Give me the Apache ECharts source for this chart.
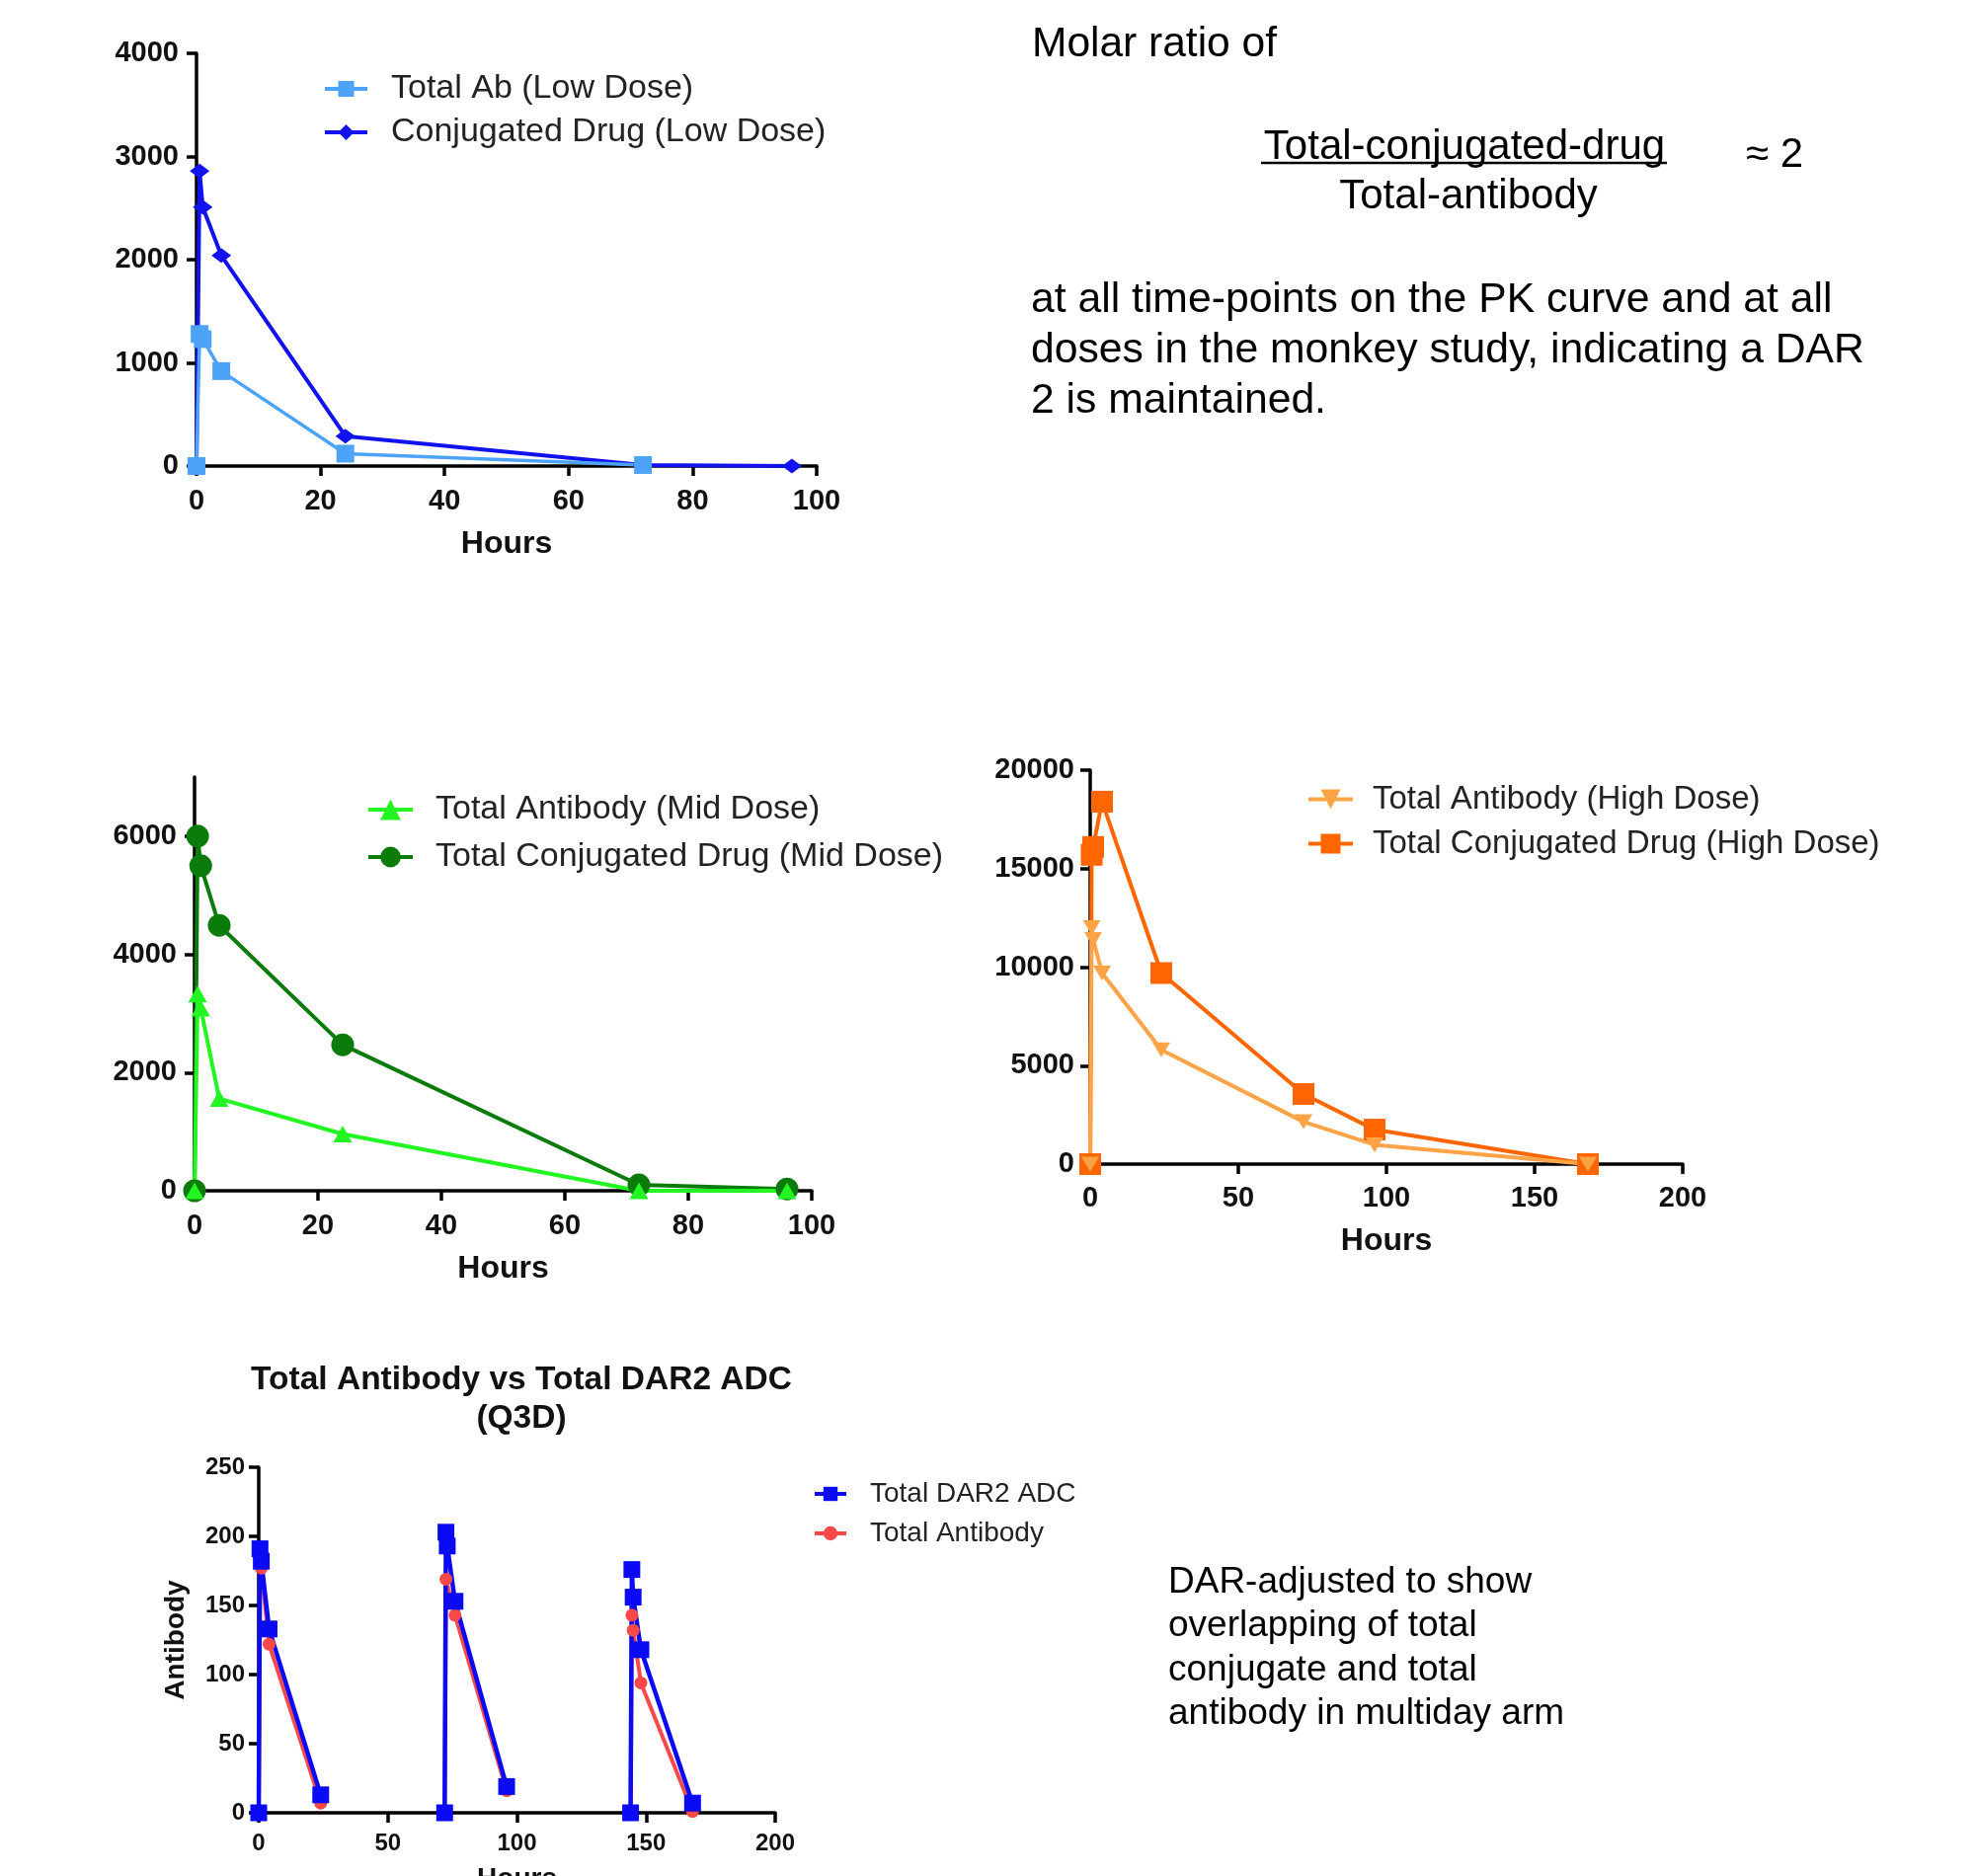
<!DOCTYPE html>
<html>
<head>
<meta charset="utf-8">
<script src="https://cdn.jsdelivr.net/npm/echarts@6/dist/echarts.min.js"></script>
<style>html,body{margin:0;padding:0;background:#fff}#c{width:2001px;height:1900px}</style>
</head>
<body>
<div id="c"></div>
<script>
// ---------- data ----------
const lowTime = [0, 0.5, 1, 4, 24, 72, 96];
const lowTotalAb = [0, 1280, 1230, 920, 120, 10, null];
const lowConjDrug = [0, 2860, 2510, 2040, 290, 10, 0];

const midTime = [0, 0.5, 1, 4, 24, 72, 96];
const midTotalAb = [0, 3330, 3090, 1560, 960, 0, 0];
const midConjDrug = [0, 6000, 5500, 4490, 2470, 100, 30];

const highTime = [0, 0.5, 1, 4, 24, 72, 96, 168];
const highTotalAb = [0, 12000, 11400, 9700, 5800, 2150, 980, 0];
const highConjDrug = [0, 15700, 16100, 18400, 9700, 3560, 1750, 0];

const q3dAdcTime = [0, 0.5, 1, 4, 24, null, 72, 72.5, 73, 76, 96, null, 144, 144.5, 145, 148, 168];
const q3dDar2Adc = [0, 191, 182, 133, 13, null, 0, 203, 193, 153, 19, null, 0, 176, 156, 118, 7];
const q3dAbTime = [0, 0.5, 1, 4, 24, null, 72, 72.5, 76, 96, null, 144, 144.5, 145, 148, 168];
const q3dTotalAb = [0, 186, 177, 122, 7, null, 0, 169, 143, 16, null, 0, 143, 132, 94, 1];

const lowXTicks = [0, 20, 40, 60, 80, 100];
const lowYTicks = [0, 1000, 2000, 3000, 4000];
const midXTicks = [0, 20, 40, 60, 80, 100];
const midYTicks = [0, 2000, 4000, 6000];
const highXTicks = [0, 50, 100, 150, 200];
const highYTicks = [0, 5000, 10000, 15000, 20000];
const q3dXTicks = [0, 50, 100, 150, 200];
const q3dYTicks = [0, 50, 100, 150, 200, 250];

// ---------- helpers ----------
function pairs(t, v) {
  return t.map((x, i) => (x === null || v[i] === null || v[i] === undefined) ? ['-', '-'] : [x, v[i]]);
}
const FONT = "'Liberation Sans', Arial, sans-serif";
const AX = '#000';
const plain = v => String(v);

function xAxisDef(gi, min, max, ticks, fs, margin, nameGap, nameFs) {
  return {
    type: 'value', gridIndex: gi, min: min, max: max,
    interval: ticks[1] - ticks[0],
    axisLine: { show: true, onZero: false, lineStyle: { color: AX, width: 3.5 } },
    axisTick: { show: true, length: 10, lineStyle: { color: AX, width: 3.5 }, customValues: ticks },
    axisLabel: { fontFamily: FONT, fontWeight: 'bold', fontSize: fs, color: '#111', margin: margin, customValues: ticks, formatter: plain },
    splitLine: { show: false },
    name: 'Hours', nameLocation: 'middle', nameGap: nameGap,
    nameTextStyle: { fontFamily: FONT, fontWeight: 'bold', fontSize: nameFs, color: '#111' }
  };
}
function yAxisDef(gi, min, max, ticks, fs, margin) {
  return {
    type: 'value', gridIndex: gi, min: min, max: max,
    interval: ticks[1] - ticks[0],
    axisLine: { show: true, onZero: false, lineStyle: { color: AX, width: 3.5 } },
    axisTick: { show: true, length: 10, lineStyle: { color: AX, width: 3.5 }, customValues: ticks },
    axisLabel: { fontFamily: FONT, fontWeight: 'bold', fontSize: fs, color: '#111', margin: margin, customValues: ticks, formatter: plain },
    splitLine: { show: false }
  };
}
function lineSeries(name, gi, data, color, symbol, size, width, extra) {
  return Object.assign({
    name: name, type: 'line', xAxisIndex: gi, yAxisIndex: gi,
    data: data, symbol: symbol, symbolSize: size, clip: false,
    connectNulls: false, animation: false,
    lineStyle: { color: color, width: width },
    itemStyle: { color: color, borderWidth: 0 },
    emphasis: { disabled: true }
  }, extra || {});
}
function legendDef(names, left, top, itemW, itemH, gap, fs, pad, lw) {
  return {
    data: names, orient: 'vertical', left: left, top: top, padding: 0,
    itemWidth: itemW, itemHeight: itemH, itemGap: gap, selectedMode: false,
    lineStyle: { width: lw },
    textStyle: { fontFamily: FONT, fontSize: fs, color: '#222', padding: [0, 0, 0, pad] }
  };
}

const chart = echarts.init(document.getElementById('c'), null, { renderer: 'canvas' });

const option = {
  backgroundColor: '#fff',
  animation: false,
  title: [{
    text: 'Total Antibody vs Total DAR2 ADC\n(Q3D)',
    left: 523, top: 1373, textAlign: 'center',
    textStyle: { fontFamily: FONT, fontWeight: 'bold', fontSize: 33.5, lineHeight: 39, color: '#111' }
  }],
  grid: [
    { left: 199, top: 54, width: 628, height: 418, containLabel: false, outerBoundsMode: 'none' },
    { left: 197, top: 787, width: 625, height: 419, containLabel: false, outerBoundsMode: 'none' },
    { left: 1104, top: 780, width: 600, height: 399, containLabel: false, outerBoundsMode: 'none' },
    { left: 262, top: 1486, width: 523, height: 350, containLabel: false, outerBoundsMode: 'none' }
  ],
  xAxis: [
    xAxisDef(0, 0, 100, lowXTicks, 29, 21, 63, 32),
    xAxisDef(1, 0, 100, midXTicks, 29, 21, 63, 32),
    xAxisDef(2, 0, 200, highXTicks, 29, 20, 62, 32),
    xAxisDef(3, 0, 200, q3dXTicks, 24, 19, 53, 28)
  ],
  yAxis: [
    yAxisDef(0, 0, 4000, lowYTicks, 29, 18),
    yAxisDef(1, 0, 7000, midYTicks, 29, 18),
    yAxisDef(2, 0, 20000, highYTicks, 29, 16),
    Object.assign(yAxisDef(3, 0, 250, q3dYTicks, 24, 14), {
      name: 'Antibody', nameLocation: 'middle', nameGap: 70,
      nameTextStyle: { fontFamily: FONT, fontWeight: 'bold', fontSize: 28, color: '#111' }
    })
  ],
  legend: [
    legendDef(['Total Ab (Low Dose)', 'Conjugated Drug (Low Dose)'], 327, 73, 43, 20, 10, 34, 19, 4),
    legendDef(['Total Antibody (Mid Dose)', 'Total Conjugated Drug (Mid Dose)'], 371, 803, 45, 26, 14, 34, 18, 4),
    legendDef(['Total Antibody (High Dose)', 'Total Conjugated Drug (High Dose)'], 1323, 793, 45, 25, 12, 33, 15, 4),
    legendDef(['Total DAR2 ADC', 'Total Antibody'], 823, 1499, 32, 18, 12, 28, 19, 4)
  ],
  series: [
    lineSeries('Conjugated Drug (Low Dose)', 0, pairs(lowTime, lowConjDrug), '#1212ee', 'diamond', [20, 15], 4),
    lineSeries('Total Ab (Low Dose)', 0, pairs(lowTime, lowTotalAb), '#4da3f7', 'rect', 18, 3.5),
    lineSeries('Total Conjugated Drug (Mid Dose)', 1, pairs(midTime, midConjDrug), '#0b7b0b', 'circle', 23, 4),
    lineSeries('Total Antibody (Mid Dose)', 1, pairs(midTime, midTotalAb), '#22f522', 'triangle', [19, 17], 4),
    lineSeries('Total Conjugated Drug (High Dose)', 2, pairs(highTime, highConjDrug), '#ff6600', 'rect', 22, 4),
    lineSeries('Total Antibody (High Dose)', 2, pairs(highTime, highTotalAb), '#ffa347', 'triangle', [18, 15], 4, { symbolRotate: 180 }),
    lineSeries('Total Antibody', 3, pairs(q3dAbTime, q3dTotalAb), '#fb4848', 'circle', 13, 4),
    lineSeries('Total DAR2 ADC', 3, pairs(q3dAdcTime, q3dDar2Adc), '#0a0af5', 'rect', 17, 4.5)
  ],
  graphic: [
    { type: 'text', silent: true, style: { text: 'Molar ratio of', x: 1045, y: 45, fontFamily: FONT, fontSize: 42.5, fill: '#000', textVerticalAlign: 'middle' } },
    { type: 'text', silent: true, style: { text: 'Total-conjugated-drug', x: 1483, y: 149, fontFamily: FONT, fontSize: 42, fill: '#000', textAlign: 'center', textVerticalAlign: 'middle' } },
    { type: 'line', silent: true, shape: { x1: 1277, y1: 165, x2: 1688, y2: 165 }, style: { stroke: '#000', lineWidth: 2.5 } },
    { type: 'text', silent: true, style: { text: 'Total-antibody', x: 1487, y: 199, fontFamily: FONT, fontSize: 42, fill: '#000', textAlign: 'center', textVerticalAlign: 'middle' } },
    { type: 'text', silent: true, style: { text: '\u2248 2', x: 1768, y: 157, fontFamily: FONT, fontSize: 42, fill: '#000', textVerticalAlign: 'middle' } },
    { type: 'text', silent: true, style: { text: 'at all time-points on the PK curve and at all\ndoses in the monkey study, indicating a DAR\n2 is maintained.', x: 1044, y: 279, lineHeight: 51, fontFamily: FONT, fontSize: 42.7, fill: '#000', textVerticalAlign: 'top' } },
    { type: 'text', silent: true, style: { text: 'DAR-adjusted to show\noverlapping of total\nconjugate and total\nantibody in multiday arm', x: 1183, y: 1580, lineHeight: 44.6, fontFamily: FONT, fontSize: 37, fill: '#000', textVerticalAlign: 'top' } }
  ]
};
chart.setOption(option);
</script>
</body>
</html>
